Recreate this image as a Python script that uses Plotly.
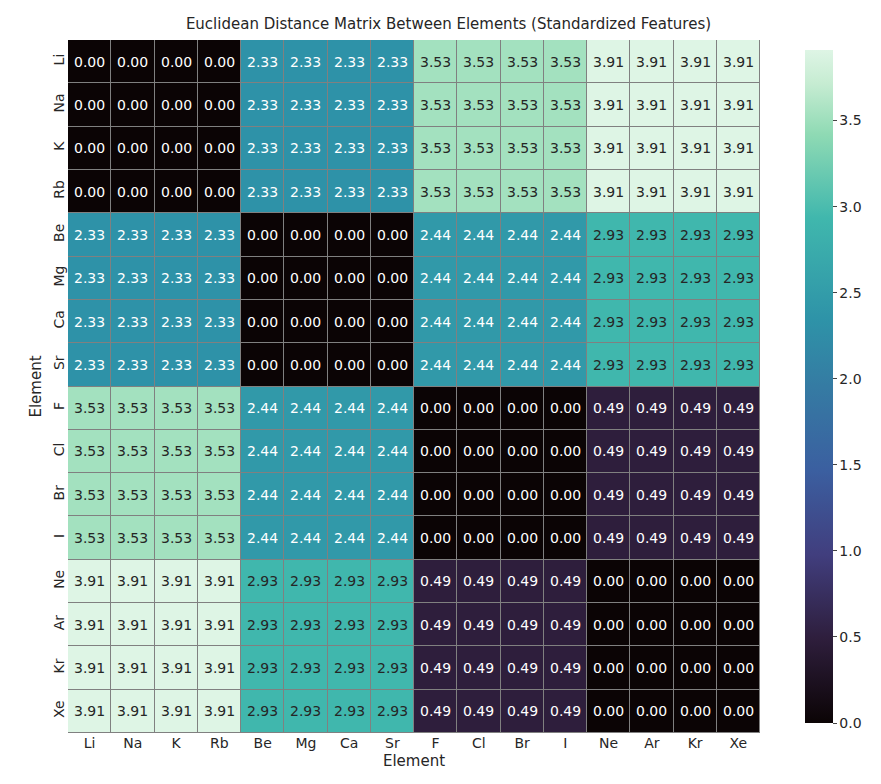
import plotly.graph_objects as go
import numpy as np

elements = ["Li","Na","K","Rb","Be","Mg","Ca","Sr","F","Cl","Br","I","Ne","Ar","Kr","Xe"]
groups = [0,0,0,0,1,1,1,1,2,2,2,2,3,3,3,3]
group_dist = [[0.00,2.33,3.53,3.91],
              [2.33,0.00,2.44,2.93],
              [3.53,2.44,0.00,0.49],
              [3.91,2.93,0.49,0.00]]
z = [[group_dist[groups[i]][groups[j]] for j in range(16)] for i in range(16)]

mako = [[0.0,"#0b0405"],[0.125,"#2e1e3c"],[0.25,"#413e7e"],[0.375,"#3b5fa0"],
        [0.5,"#357ba3"],[0.6,"#2e93a8"],[0.75,"#40b7ad"],[0.875,"#8fdab4"],
        [0.95,"#c6ecd2"],[1.0,"#def5e5"]]

fig = go.Figure(go.Heatmap(z=z, x=elements, y=elements, colorscale=mako, zmin=0, zmax=3.91,
    xgap=1, ygap=1,
    colorbar=dict(thickness=28, len=1, y=0.5, yanchor="middle", x=1.065, xpad=0,
                  tickvals=[0,0.5,1,1.5,2,2.5,3,3.5], ticktext=["0.0","0.5","1.0","1.5","2.0","2.5","3.0","3.5"],
                  outlinewidth=0, ticks="outside", ticklen=4, tickfont=dict(size=14))))
ann = []
for i in range(16):
    for j in range(16):
        v = z[i][j]
        col = "#262626" if v > 2.6 else "white"
        ann.append(dict(x=elements[j], y=elements[i], text=f"{v:.2f}", showarrow=False,
                        font=dict(size=14, color=col)))
fig.update_layout(width=881, height=784, annotations=ann,
    font=dict(family="DejaVu Sans", color="#262626"),
    plot_bgcolor="gray", paper_bgcolor="white",
    margin=dict(l=60, r=129, t=32, b=59),
    title=dict(text="Euclidean Distance Matrix Between Elements (Standardized Features)", x=0.5,
               xanchor="center", y=0.98, yanchor="middle", font=dict(size=15)),
    xaxis=dict(title=dict(text="Element", font=dict(size=15), standoff=5), tickfont=dict(size=14), showgrid=False, ticks=""),
    yaxis=dict(title=dict(text="Element", font=dict(size=15), standoff=5), tickfont=dict(size=14), autorange="reversed",
               showgrid=False, tickangle=-90))
fig.write_html("out.html")
